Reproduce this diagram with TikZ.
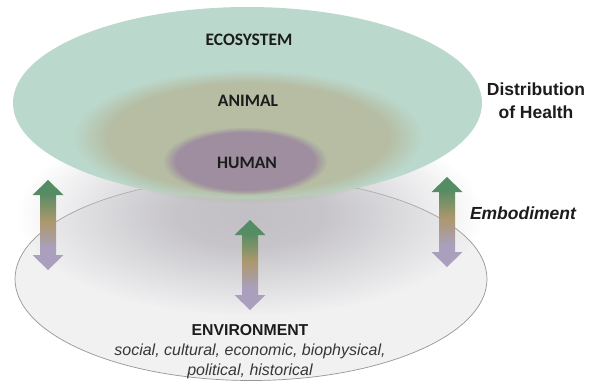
\documentclass[tikz,border=0pt]{standalone}
\usepackage{fontspec}
\setmainfont{Liberation Sans}
\newfontfamily\calib{Carlito}
\usetikzlibrary{fadings}
\definecolor{eco}{RGB}{187,216,204}
\definecolor{ani}{RGB}{182,189,163}
\definecolor{hum}{RGB}{158,142,160}
\definecolor{shadowc}{RGB}{194,192,197}
\definecolor{envfill}{RGB}{241,241,242}
\definecolor{envline}{RGB}{150,150,150}
\definecolor{agreen}{RGB}{84,140,100}
\definecolor{atan}{RGB}{172,152,108}
\definecolor{alav}{RGB}{170,160,190}
\definecolor{txt}{RGB}{28,28,28}
\definecolor{subtxt}{RGB}{55,55,55}
\pgfdeclareradialshading{softshadeA}{\pgfpointorigin}{color(0bp)=(pgftransparent!0); color(8bp)=(pgftransparent!10); color(25bp)=(pgftransparent!100); color(50bp)=(pgftransparent!100)}
\pgfdeclarefading{softfadeA}{\pgfuseshading{softshadeA}}
\pgfdeclareradialshading{softshadeB}{\pgfpointorigin}{color(0bp)=(pgftransparent!0); color(20bp)=(pgftransparent!0); color(25bp)=(pgftransparent!100); color(50bp)=(pgftransparent!100)}
\pgfdeclarefading{softfadeB}{\pgfuseshading{softshadeB}}
\pgfdeclareradialshading{softshadeC}{\pgfpointorigin}{color(0bp)=(pgftransparent!0); color(21bp)=(pgftransparent!0); color(25bp)=(pgftransparent!100); color(50bp)=(pgftransparent!100)}
\pgfdeclarefading{softfadeC}{\pgfuseshading{softshadeC}}
\pgfdeclareverticalshading{arrowshade}{100bp}{color(0bp)=(alav); color(25bp)=(alav); color(37bp)=(alav); color(52bp)=(atan); color(68bp)=(agreen); color(75bp)=(agreen); color(100bp)=(agreen)}
\begin{document}
\begin{tikzpicture}[x=1pt,y=-1pt,
  lvl/.style={font=\calib\bfseries\fontsize{17.5}{20}\selectfont, text=txt, inner sep=0pt},
  side/.style={font=\bfseries\fontsize{17.5}{23}\selectfont, text=txt, align=center, inner sep=0pt},
  emb/.style={font=\bfseries\itshape\fontsize{17.5}{20}\selectfont, text=txt, inner sep=0pt},
  envt/.style={font=\bfseries\fontsize{15.8}{20}\selectfont, text=txt, inner sep=0pt},
  envsub/.style={font=\itshape\fontsize{16}{20}\selectfont, text=subtxt, align=center, inner sep=0pt},
  dblarrow/.pic={
    \shade[shading=arrowshade]
      (0,0) -- (15.5,15) -- (8,15) -- (8,75) -- (15.5,75) -- (0,90)
      -- (-15.5,75) -- (-8,75) -- (-8,15) -- (-15.5,15) -- cycle;
  }
]
\useasboundingbox (0,0) rectangle (594,381);
\fill[white] (0,0) rectangle (594,381);
% environment plane
\draw[envline, line width=0.7pt, fill=envfill] (251,279) ellipse [x radius=236pt, y radius=101.5pt];
% shadow of the health plane
\fill[shadowc, path fading=softfadeA] (250,215) ellipse [x radius=232pt, y radius=100pt];
% health plane
\fill[eco] (247.5,103) ellipse [x radius=234.5pt, y radius=96pt];
\fill[ani, path fading=softfadeB] (248,137) ellipse [x radius=174pt, y radius=67pt];
\fill[hum, path fading=softfadeC] (245,161) ellipse [x radius=82pt, y radius=34pt];
% labels
\node[lvl] (eco) at (249,40) {ECOSYSTEM};
\node[lvl] (ani) at (248,101) {ANIMAL};
\node[lvl] (hum) at (247,163) {HUMAN};
\node[side] (dist) at (536,101) {Distribution\\of Health};
\node[emb] (embo) at (523,213) {Embodiment};
\node[envt] (env) at (250,330) {ENVIRONMENT};
\node[envsub] (envs) at (250,361) {social, cultural, economic, biophysical,\\political, historical};
% embodiment arrows
\pic (arrL) at (48,180) {dblarrow};
\pic (arrM) at (250,220) {dblarrow};
\pic (arrR) at (447,177) {dblarrow};
\end{tikzpicture}
\end{document}
